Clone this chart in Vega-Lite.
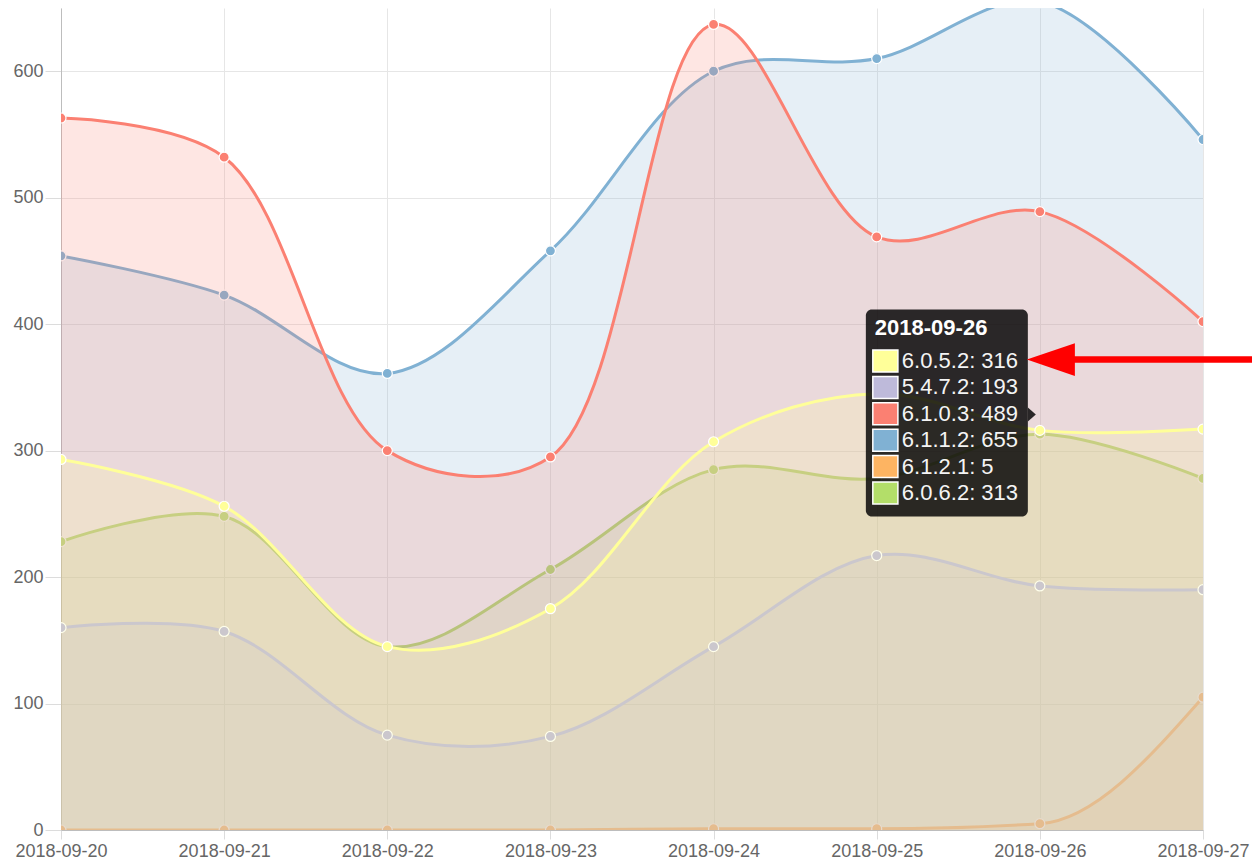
{
  "$schema": "https://vega.github.io/schema/vega-lite/v6.json",
  "width": 1142,
  "height": 822,
  "autosize": {"type": "none"},
  "padding": {"left": 61, "top": 8, "right": 49, "bottom": 35},
  "background": "white",
  "config": {
    "view": {"stroke": null},
    "font": "Liberation Sans",
    "axis": {
      "labelFont": "Liberation Sans",
      "labelFontSize": 18,
      "labelColor": "#666666",
      "gridColor": "#e6e6e6",
      "tickColor": "#dcdcdc",
      "domainColor": "#bdbdbd",
      "title": null
    }
  },
  "data": {
    "values": [
      {"date": "2018-09-20T00:00:00", "series": "6.0.5.2", "value": 293},
      {"date": "2018-09-21T00:00:00", "series": "6.0.5.2", "value": 256},
      {"date": "2018-09-22T00:00:00", "series": "6.0.5.2", "value": 145},
      {"date": "2018-09-23T00:00:00", "series": "6.0.5.2", "value": 175},
      {"date": "2018-09-24T00:00:00", "series": "6.0.5.2", "value": 307},
      {"date": "2018-09-25T00:00:00", "series": "6.0.5.2", "value": 345},
      {"date": "2018-09-26T00:00:00", "series": "6.0.5.2", "value": 316},
      {"date": "2018-09-27T00:00:00", "series": "6.0.5.2", "value": 317},
      {"date": "2018-09-20T00:00:00", "series": "5.4.7.2", "value": 160},
      {"date": "2018-09-21T00:00:00", "series": "5.4.7.2", "value": 157},
      {"date": "2018-09-22T00:00:00", "series": "5.4.7.2", "value": 75},
      {"date": "2018-09-23T00:00:00", "series": "5.4.7.2", "value": 74},
      {"date": "2018-09-24T00:00:00", "series": "5.4.7.2", "value": 145},
      {"date": "2018-09-25T00:00:00", "series": "5.4.7.2", "value": 217},
      {"date": "2018-09-26T00:00:00", "series": "5.4.7.2", "value": 193},
      {"date": "2018-09-27T00:00:00", "series": "5.4.7.2", "value": 190},
      {"date": "2018-09-20T00:00:00", "series": "6.1.0.3", "value": 563},
      {"date": "2018-09-21T00:00:00", "series": "6.1.0.3", "value": 532},
      {"date": "2018-09-22T00:00:00", "series": "6.1.0.3", "value": 300},
      {"date": "2018-09-23T00:00:00", "series": "6.1.0.3", "value": 295},
      {"date": "2018-09-24T00:00:00", "series": "6.1.0.3", "value": 637},
      {"date": "2018-09-25T00:00:00", "series": "6.1.0.3", "value": 469},
      {"date": "2018-09-26T00:00:00", "series": "6.1.0.3", "value": 489},
      {"date": "2018-09-27T00:00:00", "series": "6.1.0.3", "value": 402},
      {"date": "2018-09-20T00:00:00", "series": "6.1.1.2", "value": 454},
      {"date": "2018-09-21T00:00:00", "series": "6.1.1.2", "value": 423},
      {"date": "2018-09-22T00:00:00", "series": "6.1.1.2", "value": 361},
      {"date": "2018-09-23T00:00:00", "series": "6.1.1.2", "value": 458},
      {"date": "2018-09-24T00:00:00", "series": "6.1.1.2", "value": 600},
      {"date": "2018-09-25T00:00:00", "series": "6.1.1.2", "value": 610},
      {"date": "2018-09-26T00:00:00", "series": "6.1.1.2", "value": 655},
      {"date": "2018-09-27T00:00:00", "series": "6.1.1.2", "value": 546},
      {"date": "2018-09-20T00:00:00", "series": "6.1.2.1", "value": 0},
      {"date": "2018-09-21T00:00:00", "series": "6.1.2.1", "value": 0},
      {"date": "2018-09-22T00:00:00", "series": "6.1.2.1", "value": 0},
      {"date": "2018-09-23T00:00:00", "series": "6.1.2.1", "value": 0},
      {"date": "2018-09-24T00:00:00", "series": "6.1.2.1", "value": 1},
      {"date": "2018-09-25T00:00:00", "series": "6.1.2.1", "value": 1},
      {"date": "2018-09-26T00:00:00", "series": "6.1.2.1", "value": 5},
      {"date": "2018-09-27T00:00:00", "series": "6.1.2.1", "value": 105},
      {"date": "2018-09-20T00:00:00", "series": "6.0.6.2", "value": 228},
      {"date": "2018-09-21T00:00:00", "series": "6.0.6.2", "value": 248},
      {"date": "2018-09-22T00:00:00", "series": "6.0.6.2", "value": 145},
      {"date": "2018-09-23T00:00:00", "series": "6.0.6.2", "value": 206},
      {"date": "2018-09-24T00:00:00", "series": "6.0.6.2", "value": 285},
      {"date": "2018-09-25T00:00:00", "series": "6.0.6.2", "value": 278},
      {"date": "2018-09-26T00:00:00", "series": "6.0.6.2", "value": 313},
      {"date": "2018-09-27T00:00:00", "series": "6.0.6.2", "value": 278}
    ]
  },
  "layer": [
    {
      "layer": [
        {
          "encoding": {
            "x": {
              "field": "date",
              "type": "temporal",
              "scale": {
                "domain": [
                  {"year": 2018, "month": 9, "date": 20},
                  {"year": 2018, "month": 9, "date": 27}
                ],
                "nice": false
              },
              "axis": {
                "format": "%Y-%m-%d",
                "tickCount": {"interval": "day", "step": 1},
                "labelFlush": false,
                "labelOverlap": false,
                "tickSize": 9,
                "labelPadding": 3,
                "grid": true
              }
            },
            "y": {
              "field": "value",
              "type": "quantitative",
              "stack": null,
              "scale": {"domain": [0, 650], "nice": false, "zero": true},
              "axis": {
                "values": [0, 100, 200, 300, 400, 500, 600],
                "tickSize": 16,
                "labelPadding": 2,
                "grid": true
              }
            },
            "color": {
              "field": "series",
              "type": "nominal",
              "scale": {
                "domain": ["6.0.5.2", "5.4.7.2", "6.1.0.3", "6.1.1.2", "6.1.2.1", "6.0.6.2"],
                "range": ["#ffff99", "#bebada", "#fb8072", "#80b1d3", "#fdb462", "#b3de69"]
              },
              "legend": null
            }
          },
          "layer": [
            {
              "transform": [{"filter": "datum.series == '6.0.6.2'"}],
              "layer": [
                {"mark": {"type": "area", "interpolate": "catmull-rom", "fillOpacity": 0.2, "clip": true}},
                {"mark": {"type": "line", "interpolate": "catmull-rom", "strokeWidth": 3, "clip": true}},
                {"mark": {"type": "point", "filled": true, "size": 100, "opacity": 1, "stroke": "white", "strokeWidth": 1.2, "clip": true}}
              ]
            },
            {
              "transform": [{"filter": "datum.series == '6.1.2.1'"}],
              "layer": [
                {"mark": {"type": "area", "interpolate": "monotone", "fillOpacity": 0.2, "clip": true}},
                {"mark": {"type": "line", "interpolate": "monotone", "strokeWidth": 3, "clip": true}},
                {"mark": {"type": "point", "filled": true, "size": 100, "opacity": 1, "stroke": "white", "strokeWidth": 1.2, "clip": true}}
              ]
            },
            {
              "transform": [{"filter": "datum.series == '6.1.1.2'"}],
              "layer": [
                {"mark": {"type": "area", "interpolate": "catmull-rom", "fillOpacity": 0.2, "clip": true}},
                {"mark": {"type": "line", "interpolate": "catmull-rom", "strokeWidth": 3, "clip": true}},
                {"mark": {"type": "point", "filled": true, "size": 100, "opacity": 1, "stroke": "white", "strokeWidth": 1.2, "clip": true}}
              ]
            },
            {
              "transform": [{"filter": "datum.series == '6.1.0.3'"}],
              "layer": [
                {"mark": {"type": "area", "interpolate": "catmull-rom", "fillOpacity": 0.2, "clip": true}},
                {"mark": {"type": "line", "interpolate": "catmull-rom", "strokeWidth": 3, "clip": true}},
                {"mark": {"type": "point", "filled": true, "size": 100, "opacity": 1, "stroke": "white", "strokeWidth": 1.2, "clip": true}}
              ]
            },
            {
              "transform": [{"filter": "datum.series == '5.4.7.2'"}],
              "layer": [
                {"mark": {"type": "area", "interpolate": "catmull-rom", "fillOpacity": 0.2, "clip": true}},
                {"mark": {"type": "line", "interpolate": "catmull-rom", "strokeWidth": 3, "clip": true}},
                {"mark": {"type": "point", "filled": true, "size": 100, "opacity": 1, "stroke": "white", "strokeWidth": 1.2, "clip": true}}
              ]
            },
            {
              "transform": [{"filter": "datum.series == '6.0.5.2'"}],
              "layer": [
                {"mark": {"type": "area", "interpolate": "catmull-rom", "fillOpacity": 0.2, "clip": true}},
                {"mark": {"type": "line", "interpolate": "catmull-rom", "strokeWidth": 3, "clip": true}},
                {"mark": {"type": "point", "filled": true, "size": 100, "opacity": 1, "stroke": "white", "strokeWidth": 1.2, "clip": true}}
              ]
            }
          ]
        },
        {
          "data": {"values": [{"anchor": "2018-09-26"}]},
          "mark": {"type": "rect", "fill": "black", "fillOpacity": 0.82, "cornerRadius": 6, "xOffset": -174, "x2Offset": -12, "yOffset": -105, "y2Offset": 102},
          "encoding": {
            "x": {"datum": {"year": 2018, "month": 9, "date": 26}, "type": "temporal"},
            "x2": {"datum": {"year": 2018, "month": 9, "date": 26}},
            "y": {"datum": 328.5, "type": "quantitative"},
            "y2": {"datum": 328.5}
          }
        },
        {
          "data": {"values": [{"anchor": "2018-09-26"}]},
          "mark": {"type": "point", "shape": "M-0.57,-1L0.57,0L-0.57,1Z", "size": 196, "filled": true, "fill": "black", "opacity": 0.82, "strokeWidth": 0, "xOffset": -8},
          "encoding": {
            "x": {"datum": {"year": 2018, "month": 9, "date": 26}, "type": "temporal"},
            "y": {"datum": 328.5, "type": "quantitative"}
          }
        },
        {
          "data": {"values": [{"anchor": "2018-09-26"}]},
          "mark": {"type": "text", "align": "left", "baseline": "middle", "dx": -165, "dy": -87, "fontSize": 22, "fontWeight": "bold", "fill": "white", "font": "Liberation Sans"},
          "encoding": {
            "x": {"datum": {"year": 2018, "month": 9, "date": 26}, "type": "temporal"},
            "y": {"datum": 328.5, "type": "quantitative"},
            "text": {"field": "anchor"}
          }
        },
        {
          "data": {"values": [{"anchor": "2018-09-26"}]},
          "mark": {"type": "rule", "stroke": "#ff0000", "strokeWidth": 6.5, "xOffset": 30, "x2Offset": 215, "yOffset": -55, "y2Offset": -55},
          "encoding": {
            "x": {"datum": {"year": 2018, "month": 9, "date": 26}, "type": "temporal"},
            "x2": {"datum": {"year": 2018, "month": 9, "date": 26}},
            "y": {"datum": 328.5, "type": "quantitative"}
          }
        },
        {
          "data": {"values": [{"anchor": "2018-09-26"}]},
          "mark": {"type": "point", "shape": "M-1,0L1,-0.68L1,0.68Z", "size": 2304, "filled": true, "fill": "#ff0000", "opacity": 1, "strokeWidth": 0, "xOffset": 11, "yOffset": -55},
          "encoding": {
            "x": {"datum": {"year": 2018, "month": 9, "date": 26}, "type": "temporal"},
            "y": {"datum": 328.5, "type": "quantitative"}
          }
        }
      ]
    },
    {
      "transform": [
        {"filter": "date(datum.date) == 26"},
        {"calculate": "datum.series + ': ' + datum.value", "as": "label"}
      ],
      "encoding": {
        "x": {"datum": {"year": 2018, "month": 9, "date": 26}, "type": "temporal"},
        "y": {
          "field": "series",
          "type": "nominal",
          "scale": {
            "type": "point",
            "domain": ["6.0.5.2", "5.4.7.2", "6.1.0.3", "6.1.1.2", "6.1.2.1", "6.0.6.2"],
            "range": [353, 485],
            "padding": 0
          },
          "axis": null
        }
      },
      "layer": [
        {
          "mark": {"type": "point", "shape": "M-1.14,-1L1.14,-1L1.14,1L-1.14,1Z", "size": 484, "filled": true, "opacity": 1, "stroke": "white", "strokeWidth": 1.5, "xOffset": -154.5},
          "encoding": {
            "color": {"field": "series", "type": "nominal", "legend": null}
          }
        },
        {
          "mark": {"type": "text", "align": "left", "baseline": "middle", "dx": -138, "fontSize": 22, "fill": "#f4f4f4", "font": "Liberation Sans"},
          "encoding": {
            "text": {"field": "label"}
          }
        }
      ]
    }
  ],
  "resolve": {"scale": {"y": "independent"}, "axis": {"y": "independent"}}
}
